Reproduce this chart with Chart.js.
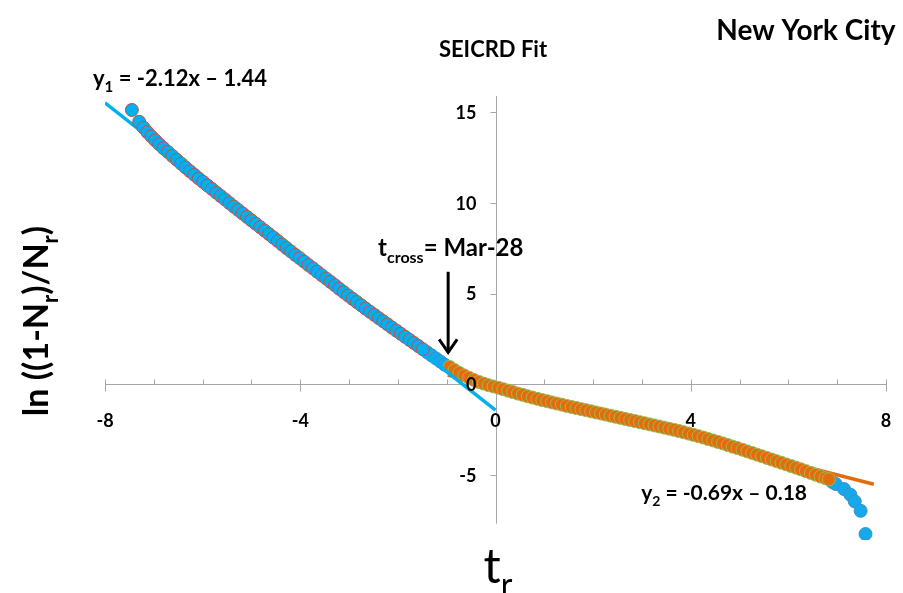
<!DOCTYPE html>
<html>
<head>
<meta charset="utf-8">
<title>SEICRD Fit - New York City</title>
<script src="https://cdn.jsdelivr.net/npm/chart.js@4.4.1/dist/chart.umd.min.js"></script>
<style>
  html, body { margin: 0; padding: 0; background: #fff; }
  #wrap { position: relative; width: 903px; height: 593px; }
</style>
</head>
<body>
<div id="wrap"><canvas id="fitChart" width="903" height="593"></canvas></div>
<script>
// normalised time t_r and ln((1-Nr)/Nr), early phase (before crossing)
var phase1T = [-7.45, -7.30, -7.21, -7.13, -7.05, -6.97, -6.89, -6.80, -6.71, -6.62,
  -6.53, -6.44, -6.35, -6.26, -6.17, -6.08, -5.99, -5.90, -5.81, -5.72,
  -5.63, -5.54, -5.45, -5.36, -5.27, -5.18, -5.09, -5.00, -4.91, -4.82,
  -4.73, -4.64, -4.55, -4.46, -4.37, -4.28, -4.19, -4.10, -4.01, -3.92,
  -3.83, -3.74, -3.65, -3.56, -3.47, -3.38, -3.29, -3.20, -3.11, -3.02,
  -2.93, -2.84, -2.75, -2.66, -2.57, -2.48, -2.39, -2.30, -2.21, -2.12,
  -2.03, -1.94, -1.85, -1.76, -1.67, -1.58, -1.49];
var phase1Y = [15.13, 14.48, 14.15, 13.90, 13.67, 13.45, 13.24, 13.02, 12.81, 12.59,
  12.38, 12.17, 11.96, 11.75, 11.55, 11.35, 11.16, 10.96, 10.77, 10.57,
  10.38, 10.19, 9.99, 9.80, 9.61, 9.42, 9.23, 9.04, 8.85, 8.66,
  8.47, 8.28, 8.09, 7.90, 7.70, 7.51, 7.32, 7.13, 6.95, 6.76,
  6.57, 6.39, 6.20, 6.01, 5.83, 5.64, 5.46, 5.26, 5.08, 4.89,
  4.71, 4.53, 4.35, 4.17, 3.99, 3.82, 3.64, 3.47, 3.30, 3.12,
  2.95, 2.78, 2.61, 2.44, 2.27, 2.10, 1.93];

// observed points around the crossing and in the late tail
var obsT = [-1.40, -1.31, -1.22, -1.13, -1.04, 6.90, 6.97, 7.14, 7.27, 7.36, 7.48, 7.58];
var obsY = [1.76, 1.59, 1.42, 1.25, 1.07, -5.40, -5.51, -5.79, -6.10, -6.47, -6.99, -8.27];

// late phase (after crossing)
var phase2T = [-0.94, -0.84, -0.74, -0.64, -0.54, -0.44, -0.34, -0.24, -0.14, -0.04,
  0.06, 0.16, 0.26, 0.36, 0.46, 0.56, 0.66, 0.76, 0.86, 0.96,
  1.06, 1.16, 1.26, 1.36, 1.46, 1.56, 1.66, 1.76, 1.86, 1.96,
  2.06, 2.16, 2.26, 2.36, 2.46, 2.56, 2.66, 2.76, 2.86, 2.96,
  3.06, 3.16, 3.26, 3.36, 3.46, 3.56, 3.66, 3.76, 3.86, 3.96,
  4.06, 4.16, 4.26, 4.36, 4.46, 4.56, 4.66, 4.76, 4.86, 4.96,
  5.06, 5.16, 5.26, 5.36, 5.46, 5.56, 5.66, 5.76, 5.86, 5.96,
  6.06, 6.16, 6.26, 6.36, 6.46, 6.56, 6.66, 6.76, 6.83];
var phase2Y = [0.95, 0.78, 0.62, 0.48, 0.35, 0.23, 0.12, 0.03, -0.06, -0.13,
  -0.20, -0.28, -0.36, -0.44, -0.52, -0.59, -0.67, -0.74, -0.81, -0.88,
  -0.94, -1.01, -1.07, -1.13, -1.20, -1.26, -1.32, -1.38, -1.44, -1.50,
  -1.56, -1.62, -1.68, -1.74, -1.80, -1.86, -1.92, -1.98, -2.04, -2.10,
  -2.16, -2.22, -2.28, -2.34, -2.40, -2.46, -2.52, -2.59, -2.66, -2.73,
  -2.80, -2.87, -2.95, -3.03, -3.11, -3.19, -3.27, -3.36, -3.45, -3.53,
  -3.62, -3.71, -3.80, -3.89, -3.98, -4.07, -4.16, -4.25, -4.34, -4.43,
  -4.52, -4.61, -4.70, -4.80, -4.90, -5.00, -5.10, -5.19, -5.25];

// linear fits y = slope*x + intercept and the t_r span each one covers
var fit1Coef = [-2.12, -1.44];
var fit1Span = [-8, 0];
var fit2Coef = [-0.69, -0.18];
var fit2Span = [-0.98, 7.75];

var xMajorTicks = [-8, -4, 0, 4, 8];
var yTicks = [-5, 0, 5, 10, 15];
var yAxisSpan = [-7.7, 15.9];
var tCross = -0.97;
var tCrossLabel = 'Mar-28';

var FONT = 'Lato, "Open Sans", sans-serif';
var AXIS_GREY = '#a6a6a6';

function toPoints(xs, ys) {
    return xs.map(function(v, i) { return { x: v, y: ys[i] }; });
}

function fitLine(coef, span) {
    return span.map(function(v) { return { x: v, y: coef[0] * v + coef[1] }; });
}

// draws text made of [string, isSubscript] pieces starting at x
function drawRich(ctx, x, y, parts, size, weight) {
    var cx = x;
    parts.forEach(function(p) {
        var s = p[1] ? Math.round(size * 0.66) : size;
        ctx.font = weight + ' ' + s + 'px ' + FONT;
        ctx.fillText(p[0], cx, p[1] ? y + size * 0.28 : y);
        cx += ctx.measureText(p[0]).width;
    });
    return cx - x;
}

function richWidth(ctx, parts, size, weight) {
    var w = 0;
    parts.forEach(function(p) {
        var s = p[1] ? Math.round(size * 0.66) : size;
        ctx.font = weight + ' ' + s + 'px ' + FONT;
        w += ctx.measureText(p[0]).width;
    });
    return w;
}

// axes cross at the origin: lines and tick marks go under the markers
var centredAxes = {
    id: 'centredAxes',
    beforeDatasetsDraw: function(chart) {
        var ctx = chart.ctx, xs = chart.scales.x, ys = chart.scales.y;
        var y0 = Math.round(ys.getPixelForValue(0)) + 0.5;
        var x0 = Math.round(xs.getPixelForValue(0)) + 0.5;
        ctx.save();
        ctx.strokeStyle = AXIS_GREY;
        ctx.lineWidth = 1;
        ctx.beginPath();
        ctx.moveTo(xs.left, y0);
        ctx.lineTo(xs.right, y0);
        ctx.moveTo(x0, ys.getPixelForValue(yAxisSpan[1]));
        ctx.lineTo(x0, ys.getPixelForValue(yAxisSpan[0]));
        for (var v = xs.min; v <= xs.max; v++) {
            var px = Math.round(xs.getPixelForValue(v)) + 0.5;
            var major = xMajorTicks.indexOf(v) !== -1;
            ctx.moveTo(px, y0 - 5);
            ctx.lineTo(px, major ? y0 + 7 : y0);
        }
        yTicks.forEach(function(t) {
            var py = Math.round(ys.getPixelForValue(t)) + 0.5;
            ctx.moveTo(x0 - 6, py);
            ctx.lineTo(x0, py);
        });
        ctx.stroke();
        ctx.restore();
    },
    afterDraw: function(chart) {
        var ctx = chart.ctx, xs = chart.scales.x, ys = chart.scales.y;
        var y0 = ys.getPixelForValue(0);
        var x0 = xs.getPixelForValue(0);
        ctx.save();
        ctx.fillStyle = '#000';
        ctx.font = 'bold 18px ' + FONT;
        ctx.textBaseline = 'middle';
        ctx.textAlign = 'center';
        xMajorTicks.forEach(function(t) {
            ctx.fillText(String(t), xs.getPixelForValue(t), y0 + 37);
        });
        ctx.textAlign = 'right';
        yTicks.forEach(function(t) {
            ctx.fillText(String(t), x0 - 19, ys.getPixelForValue(t) + 1);
        });
        ctx.restore();
    }
};

var annotations = {
    id: 'annotations',
    afterDraw: function(chart) {
        var ctx = chart.ctx, xs = chart.scales.x, ys = chart.scales.y;
        ctx.save();
        ctx.fillStyle = '#000';
        ctx.textBaseline = 'alphabetic';

        // titles
        ctx.textAlign = 'center';
        ctx.font = 'bold 22px ' + FONT;
        ctx.fillText('SEICRD Fit', 493, 57);
        ctx.font = 'bold 28px ' + FONT;
        ctx.fillText('New York City', 806, 40);
        ctx.textAlign = 'left';

        // fit equations
        var eq1 = [['y', false], ['1', true], [' = -2.12x \u2013 1.44', false]];
        var eq2 = [['y', false], ['2', true], [' = -0.69x \u2013 0.18', false]];
        drawRich(ctx, 93, 86, eq1, 22, 'bold');
        drawRich(ctx, 807 - richWidth(ctx, eq2, 21, 'bold'), 500, eq2, 21, 'bold');

        // crossing marker
        var ax = xs.getPixelForValue(tCross);
        var aTop = ys.getPixelForValue(6.2);
        var aTip = ys.getPixelForValue(1.75);
        ctx.strokeStyle = '#000';
        ctx.lineWidth = 3;
        ctx.beginPath();
        ctx.moveTo(ax, aTop);
        ctx.lineTo(ax, aTip - 2);
        ctx.stroke();
        ctx.beginPath();
        ctx.moveTo(ax - 9, aTip - 13);
        ctx.lineTo(ax, aTip);
        ctx.lineTo(ax + 9, aTip - 13);
        ctx.stroke();
        drawRich(ctx, 378, 256, [['t', false], ['cross', true], ['= ' + tCrossLabel, false]], 24, 'bold');

        // axis titles
        var tParts = [['t', false], ['r', true]];
        var tw = richWidth(ctx, tParts, 48, 'normal');
        drawRich(ctx, 498 - tw / 2, 583, tParts, 48, 'normal');

        var yParts = [['ln ((1-N', false], ['r', true], [')/N', false], ['r', true], [')', false]];
        ctx.translate(48, 321);
        ctx.rotate(-Math.PI / 2);
        var yw = richWidth(ctx, yParts, 34, 'bold');
        drawRich(ctx, -yw / 2, 0, yParts, 34, 'bold');
        ctx.restore();
    }
};

Chart.defaults.font.family = FONT;

new Chart(document.getElementById('fitChart').getContext('2d'), {
    type: 'scatter',
    data: {
        datasets: [
            {
                label: 'early phase',
                data: toPoints(phase1T, phase1Y),
                backgroundColor: '#00b0f0',
                borderColor: '#c0504d',
                borderWidth: 1,
                pointRadius: 6.5,
                order: 1
            },
            {
                label: 'fit 1',
                data: fitLine(fit1Coef, fit1Span),
                showLine: true,
                borderColor: '#00b0f0',
                borderWidth: 3.5,
                pointRadius: 0,
                order: 2
            },
            {
                label: 'late phase',
                data: toPoints(phase2T, phase2Y),
                backgroundColor: '#e46c0a',
                borderColor: '#9bbb59',
                borderWidth: 1,
                pointRadius: 6.5,
                order: 3
            },
            {
                label: 'fit 2',
                data: fitLine(fit2Coef, fit2Span),
                showLine: true,
                borderColor: '#e46c0a',
                borderWidth: 3.5,
                pointRadius: 0,
                order: 4
            },
            {
                label: 'observed',
                data: toPoints(obsT, obsY),
                backgroundColor: '#16a9ea',
                borderColor: '#3b8fd0',
                borderWidth: 1,
                pointRadius: 6.5,
                order: 5
            }
        ]
    },
    options: {
        responsive: false,
        animation: false,
        devicePixelRatio: 1,
        layout: { padding: { left: 105, right: 17, top: 96, bottom: 53 } },
        plugins: {
            legend: { display: false },
            tooltip: { enabled: false }
        },
        scales: {
            x: { type: 'linear', display: false, min: -8, max: 8 },
            y: { type: 'linear', display: false, min: -8.6, max: 15.9 }
        }
    },
    plugins: [centredAxes, annotations]
});
</script>
</body>
</html>
